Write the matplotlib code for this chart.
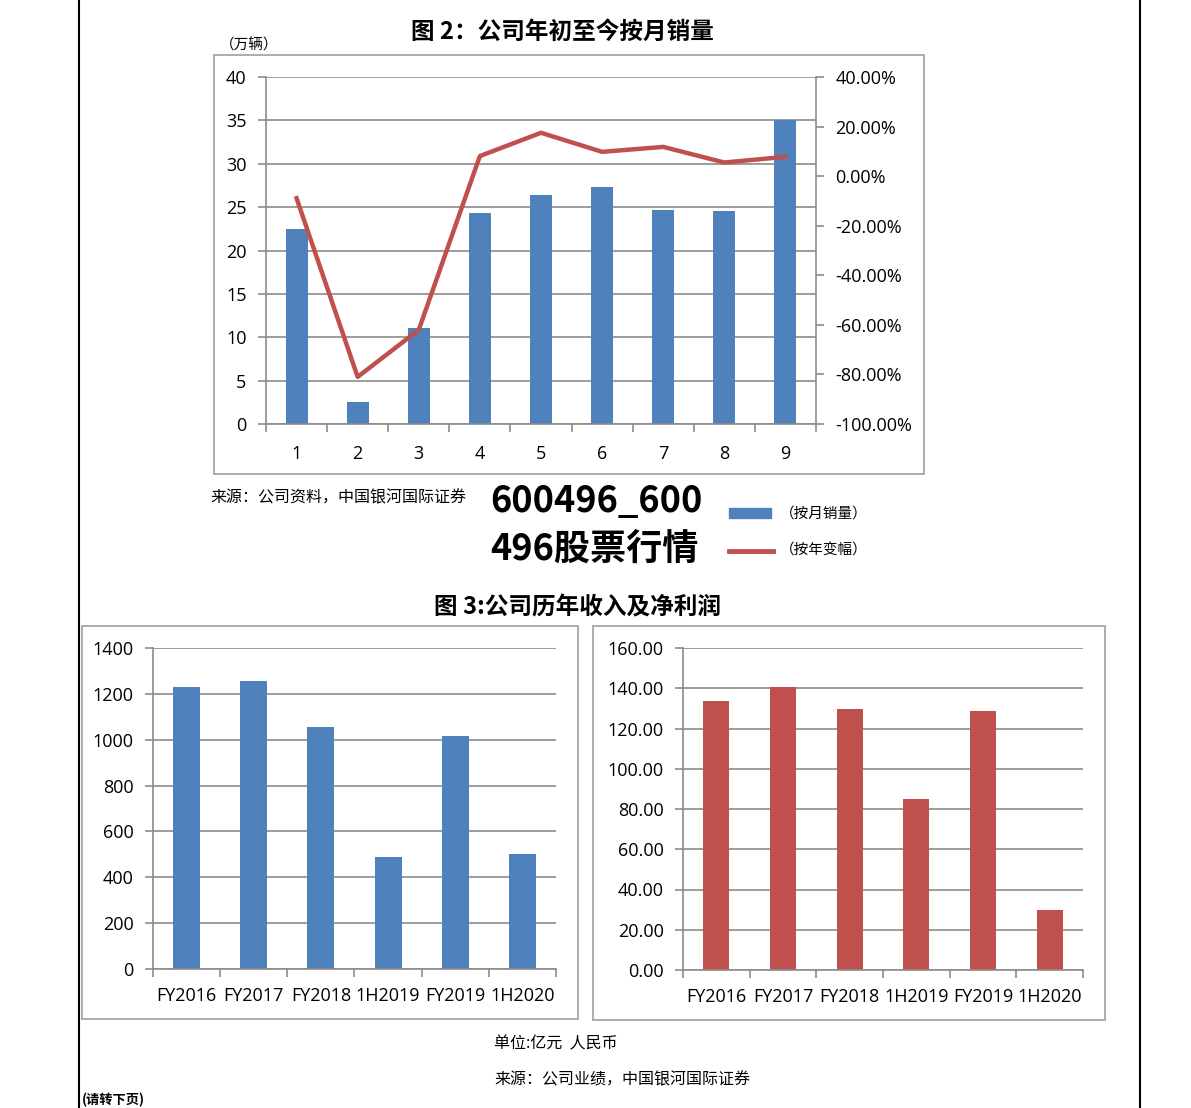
import numpy as np
import matplotlib.pyplot as plt
from matplotlib.patches import Rectangle
from matplotlib.lines import Line2D

plt.rcParams['font.family'] = ['Noto Sans CJK SC', 'DejaVu Sans']

# Data
months = ['1', '2', '3', '4', '5', '6', '7', '8', '9']
monthlySales = [22.5, 2.5, 11.1, 24.3, 26.4, 27.3, 24.7, 24.6, 35.0]
yoyChange = [-8.9, -81.0, -62.0, 8.1, 17.5, 9.8, 11.8, 5.5, 7.8]

periods = ['FY2016', 'FY2017', 'FY2018', '1H2019', 'FY2019', '1H2020']
revenue = [1230, 1257, 1056, 488, 1017, 503]
netProfit = [133.6, 140.6, 129.7, 84.9, 128.7, 29.8]

blue = '#4F81BD'
red = '#C0504D'
gridColor = '#8c8c8c'
numFont = 'Open Sans'

W, H = 1191, 1108
fig = plt.figure(figsize=(W / 100, H / 100), dpi=100)


def ax_px(x0, y0, x1, y1):
    return fig.add_axes([x0 / W, 1 - y1 / H, (x1 - x0) / W, (y1 - y0) / H])


def box_px(x0, y0, x1, y1):
    fig.patches.append(Rectangle((x0 / W, 1 - y1 / H), (x1 - x0) / W, (y1 - y0) / H,
                                 transform=fig.transFigure, fill=False,
                                 edgecolor='#a6a6a6', lw=1.3))


def style_axes(ax, n, xpad):
    for s in ['top', 'right']:
        ax.spines[s].set_visible(False)
    for s in ['left', 'bottom']:
        ax.spines[s].set_color(gridColor)
        ax.spines[s].set_linewidth(1.2)
    ax.set_xlim(-0.5, n - 0.5)
    ax.set_xticks(np.arange(n))
    ax.set_xticks(np.arange(n + 1) - 0.5, minor=True)
    ax.tick_params(axis='x', which='major', length=0, pad=xpad)
    ax.tick_params(axis='x', which='minor', length=6, color=gridColor, width=1.2)
    ax.tick_params(axis='y', length=6, color=gridColor, width=1.2, pad=8)
    ax.grid(axis='y', color=gridColor, lw=1.2)
    ax.set_axisbelow(True)
    for lab in ax.get_xticklabels() + ax.get_yticklabels():
        lab.set_fontfamily(numFont)
        lab.set_fontsize(13)


# ---- Figure 2: monthly sales ----
box_px(214, 55, 924, 474)
ax1 = ax_px(266, 77, 816, 424)
x = np.arange(len(months))
ax1.bar(x, monthlySales, width=0.36, color=blue, zorder=2)
ax1.set_ylim(0, 40)
ax1.set_yticks(np.arange(0, 41, 5))
ax1.set_xticklabels(months)
style_axes(ax1, len(months), 15)

ax1b = ax1.twinx()
ax1b.plot(x, yoyChange, color=red, lw=3.2, zorder=3)
ax1b.set_ylim(-100, 40)
ax1b.set_yticks(np.arange(-100, 41, 20))
ax1b.set_yticklabels(['%.2f%%' % v for v in np.arange(-100, 41, 20)],
                     fontfamily=numFont, fontsize=13)
for s in ['top', 'left', 'bottom']:
    ax1b.spines[s].set_visible(False)
ax1b.spines['right'].set_color(gridColor)
ax1b.spines['right'].set_linewidth(1.2)
ax1b.tick_params(axis='y', length=6, color=gridColor, width=1.2, pad=8)

fig.text(562 / W, 1 - 32 / H, '图 2：公司年初至今按月销量', ha='center', va='center',
         fontsize=17, fontweight='bold')
fig.text(220 / W, 1 - 45 / H, '（万辆）', ha='left', va='center', fontsize=10.5)
fig.text(210 / W, 1 - 498 / H, '来源：公司资料，中国银河国际证券', ha='left', va='center',
         fontsize=11.5)
fig.text(490 / W, 1 - 501 / H, '600496_600', ha='left', va='center',
         fontsize=26, fontweight='bold')
fig.text(490 / W, 1 - 549 / H, '496股票行情', ha='left', va='center',
         fontsize=26, fontweight='bold')

# legend
fig.patches.append(Rectangle((729 / W, 1 - 518 / H), 42 / W, 10 / H,
                             transform=fig.transFigure, color=blue))
fig.lines.append(Line2D([729 / W, 773 / W], [1 - 551 / H, 1 - 551 / H],
                        transform=fig.transFigure, color=red, lw=3.5))
fig.text(780 / W, 1 - 514 / H, '（按月销量）', ha='left', va='center', fontsize=10.5)
fig.text(780 / W, 1 - 551 / H, '（按年变幅）', ha='left', va='center', fontsize=10.5)

# ---- Figure 3: revenue and net profit ----
fig.text(578 / W, 1 - 607 / H, '图 3:公司历年收入及净利润', ha='center', va='center',
         fontsize=17, fontweight='bold')

box_px(82, 626, 578, 1019)
ax2 = ax_px(153, 648, 556, 969)
p = np.arange(len(periods))
ax2.bar(p, revenue, width=0.4, color=blue, zorder=2)
ax2.set_ylim(0, 1400)
ax2.set_yticks(np.arange(0, 1401, 200))
ax2.set_xticklabels(periods)
style_axes(ax2, len(periods), 13)

box_px(593, 626, 1105, 1020)
ax3 = ax_px(683, 648, 1083, 970)
ax3.bar(p, netProfit, width=0.39, color=red, zorder=2)
ax3.set_ylim(0, 160)
ax3.set_yticks(np.arange(0, 161, 20))
ax3.set_yticklabels(['%.2f' % v for v in np.arange(0, 161, 20)])
ax3.set_xticklabels(periods)
style_axes(ax3, len(periods), 13)

fig.text(494 / W, 1 - 1044 / H, '单位:亿元  人民币', ha='left', va='center', fontsize=11.5)
fig.text(494 / W, 1 - 1080 / H, '来源：公司业绩，中国银河国际证券', ha='left', va='center',
         fontsize=11.5)
fig.text(82 / W, 1 - 1107 / H, '(请转下页)', ha='left', va='bottom', fontsize=9.5,
         fontweight='bold')

# page borders
fig.lines.append(Line2D([79 / W, 79 / W], [0, 1], transform=fig.transFigure,
                        color='black', lw=1.5))
fig.lines.append(Line2D([1140 / W, 1140 / W], [0, 1], transform=fig.transFigure,
                        color='black', lw=1.5))

fig.savefig('out.png', dpi=100)
